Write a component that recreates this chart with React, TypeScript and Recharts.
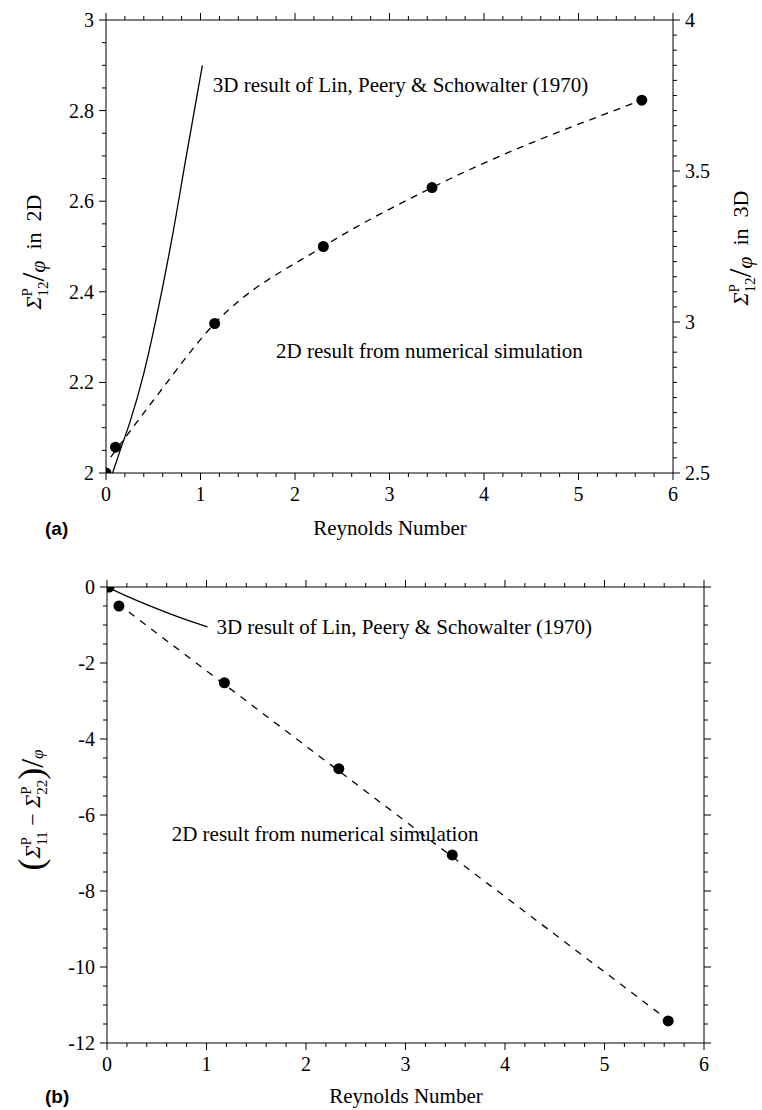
import React from 'react';
import { ComposedChart, Line, Scatter, XAxis, YAxis, ReferenceDot } from 'recharts';

// ---------------- Panel (a) ----------------
// 2D numerical simulation points (Reynolds number, Σ12/φ in 2D)
const simReA = [0, 0.1, 1.15, 2.3, 3.45, 5.67];
const simSigmaA = [2.0, 2.057, 2.33, 2.5, 2.63, 2.823];
// dashed curve through the 2D results
const fitReA = [0.05, 0.5, 1.15, 2.3, 3.45, 5.67];
const fitSigmaA = [2.035, 2.16, 2.33, 2.5, 2.63, 2.823];
// 3D result of Lin, Peery & Schowalter (right axis, Σ12/φ in 3D)
const lpsReA = [0.07, 0.15, 0.25, 0.4, 0.55, 0.7, 0.85, 1.02];
const lpsSigma3D = [2.5, 2.575, 2.665, 2.83, 3.04, 3.28, 3.55, 3.85];

// ---------------- Panel (b) ----------------
const simReB = [0.02, 0.12, 1.18, 2.33, 3.47, 5.64];
const simDiffB = [0, -0.5, -2.52, -4.78, -7.05, -11.42];
const fitReB = [0.22, 5.57];
const fitDiffB = [-0.66, -11.26];
const lpsReB = [0, 0.25, 0.5, 0.75, 1.01];
const lpsDiffB = [0, -0.3, -0.57, -0.82, -1.05];

// ---------------- Ticks ----------------
const xMajor = [0, 1, 2, 3, 4, 5, 6];
const yLeftMajorA = [2, 2.2, 2.4, 2.6, 2.8, 3];
const yRightMajorA = [2.5, 3, 3.5, 4];
const yMajorB = [0, -2, -4, -6, -8, -10, -12];

const steps = (from: number, to: number, step: number) => {
  const n = Math.round((to - from) / step);
  return Array.from({ length: n + 1 }, (_, i) => +(from + i * step).toFixed(4));
};
const xTicks = steps(0, 6, 0.2);
const yLeftTicksA = steps(2, 3, 0.05);
const yRightTicksA = steps(2.5, 4, 0.05);
const yTicksB = steps(-12, 0, 0.5);

const zip = (xs: number[], ys: number[]) => xs.map((x, i) => ({ x, y: ys[i] }));

const SERIF = '"Liberation Serif", "Times New Roman", serif';
const SANS = '"Liberation Sans", Arial, sans-serif';
const TICK_FS = 20;

type Orient = 'left' | 'right' | 'top' | 'bottom';
const makeTick = (orient: Orient, majors: number[], showLabel: boolean) => (props: any) => {
  const { x, y, payload } = props;
  const v = payload.value as number;
  const major = majors.some((m) => Math.abs(m - v) < 1e-6);
  const len = major ? 7 : 4;
  const txt = String(v);
  const ts = { fontFamily: SERIF, fontSize: TICK_FS, fill: '#000' } as any;
  let line: any = null;
  let label: any = null;
  if (orient === 'bottom') {
    line = <line x1={x} y1={y} x2={x} y2={y + len} stroke="#000" />;
    if (major && showLabel) label = <text x={x} y={y + 28} textAnchor="middle" {...ts}>{txt}</text>;
  } else if (orient === 'top') {
    line = <line x1={x} y1={y} x2={x} y2={y - len} stroke="#000" />;
  } else if (orient === 'left') {
    line = <line x1={x} y1={y} x2={x - len} y2={y} stroke="#000" />;
    if (major && showLabel) label = <text x={x - 12} y={y + 7} textAnchor="end" {...ts}>{txt}</text>;
  } else {
    line = <line x1={x} y1={y} x2={x + len} y2={y} stroke="#000" />;
    if (major && showLabel) label = <text x={x + 12} y={y + 7} textAnchor="start" {...ts}>{txt}</text>;
  }
  return (
    <g>
      {line}
      {label}
    </g>
  );
};

const dotShape = (p: any) => <circle cx={p.cx} cy={p.cy} r={5.5} fill="#000" />;

const annot = (text: string) => (p: any) => (
  <text x={p.cx} y={p.cy} dominantBaseline="central" fontFamily={SERIF} fontSize={21} fill="#000">
    {text}
  </text>
);

const axisLine = { stroke: '#000', strokeWidth: 1 };

const SigmaLabel = ({ cx, cy, suffix }: { cx: number; cy: number; suffix: string }) => (
  <text
    transform={`rotate(-90 ${cx} ${cy})`}
    x={cx}
    y={cy + 6}
    textAnchor="middle"
    fontFamily={SERIF}
    fontSize={22}
    fill="#000"
    style={{ whiteSpace: 'pre' }}
  >
    <tspan fontStyle="italic">Σ</tspan>
    <tspan fontSize={15} dy={-9}>P</tspan>
    <tspan fontSize={15} dx={-8.5} dy={16}>12</tspan>
    <tspan fontSize={32} dy={-4}>/</tspan>
    <tspan fontStyle="italic" dy={1}>φ</tspan>
    <tspan dy={-4}>{'  in  ' + suffix}</tspan>
  </text>
);

const DiffLabel = ({ cx, cy }: { cx: number; cy: number }) => (
  <text
    transform={`rotate(-90 ${cx} ${cy})`}
    x={cx}
    y={cy + 6}
    textAnchor="middle"
    fontFamily={SERIF}
    fontSize={22}
    fill="#000"
    style={{ whiteSpace: 'pre' }}
  >
    <tspan fontSize={36} dy={3}>(</tspan>
    <tspan fontStyle="italic" dy={-3}>Σ</tspan>
    <tspan fontSize={15} dy={-9}>P</tspan>
    <tspan fontSize={15} dx={-8.5} dy={16}>11</tspan>
    <tspan dy={-7}>{' − '}</tspan>
    <tspan fontStyle="italic">Σ</tspan>
    <tspan fontSize={15} dy={-9}>P</tspan>
    <tspan fontSize={15} dx={-8.5} dy={16}>22</tspan>
    <tspan fontSize={36} dy={-4}>)</tspan>
    <tspan fontSize={32}>/</tspan>
    <tspan fontStyle="italic" fontSize={17} dy={0}>φ</tspan>
  </text>
);

export default function App() {
  const simA = zip(simReA, simSigmaA);
  const fitA = zip(fitReA, fitSigmaA);
  const lpsA = zip(lpsReA, lpsSigma3D);
  const simB = zip(simReB, simDiffB);
  const fitB = zip(fitReB, fitDiffB);
  const lpsB = zip(lpsReB, lpsDiffB);

  return (
    <div style={{ position: 'absolute', left: 0, top: 0, width: 762, height: 1110, background: '#fff' }}>
      {/* Panel (a): plot box x 106-673, y 20-473 */}
      <div style={{ position: 'absolute', left: 0, top: 0 }}>
        <ComposedChart width={762} height={560} margin={{ top: 10, right: 39, bottom: 57, left: 56 }}>
          <XAxis xAxisId={0} type="number" dataKey="x" domain={[0, 6]} ticks={xTicks} interval={0}
            allowDataOverflow tickSize={0} tickMargin={0} height={30} axisLine={axisLine} tickLine={false}
            tick={makeTick('bottom', xMajor, true)} />
          <XAxis xAxisId="top" orientation="top" type="number" dataKey="x" domain={[0, 6]} ticks={xTicks} interval={0}
            allowDataOverflow tickSize={0} tickMargin={0} height={10} axisLine={axisLine} tickLine={false}
            tick={makeTick('top', xMajor, false)} />
          <YAxis yAxisId={0} type="number" domain={[2, 3]} ticks={yLeftTicksA} interval={0} allowDataOverflow
            tickSize={0} tickMargin={0} width={50} axisLine={axisLine} tickLine={false}
            tick={makeTick('left', yLeftMajorA, true)} />
          <YAxis yAxisId="right" orientation="right" type="number" domain={[2.5, 4]} ticks={yRightTicksA} interval={0}
            allowDataOverflow tickSize={0} tickMargin={0} width={50} axisLine={axisLine} tickLine={false}
            tick={makeTick('right', yRightMajorA, true)} />
          <Line data={fitA} dataKey="y" type="monotone" stroke="#000" strokeWidth={1.3} strokeDasharray="7 6"
            dot={false} activeDot={false} isAnimationActive={false} />
          <Line yAxisId="right" data={lpsA} dataKey="y" type="monotone" stroke="#000" strokeWidth={1.3}
            dot={false} activeDot={false} isAnimationActive={false} />
          <Scatter data={simA} dataKey="y" shape={dotShape} isAnimationActive={false} />
          <ReferenceDot x={1.13} y={2.856} r={0} shape={annot('3D result of Lin, Peery & Schowalter (1970)')} />
          <ReferenceDot x={1.8} y={2.27} r={0} shape={annot('2D result from numerical simulation')} />
        </ComposedChart>
      </div>

      {/* Panel (b): plot box x 107-704, y 587-1043 */}
      <div style={{ position: 'absolute', left: 0, top: 560 }}>
        <ComposedChart width={762} height={550} margin={{ top: 17, right: 48, bottom: 37, left: 57 }}>
          <XAxis xAxisId={0} type="number" dataKey="x" domain={[0, 6]} ticks={xTicks} interval={0}
            allowDataOverflow tickSize={0} tickMargin={0} height={30} axisLine={axisLine} tickLine={false}
            tick={makeTick('bottom', xMajor, true)} />
          <XAxis xAxisId="top" orientation="top" type="number" dataKey="x" domain={[0, 6]} ticks={xTicks} interval={0}
            allowDataOverflow tickSize={0} tickMargin={0} height={10} axisLine={axisLine} tickLine={false}
            tick={makeTick('top', xMajor, false)} />
          <YAxis yAxisId={0} type="number" domain={[-12, 0]} ticks={yTicksB} interval={0} allowDataOverflow
            tickSize={0} tickMargin={0} width={50} axisLine={axisLine} tickLine={false}
            tick={makeTick('left', yMajorB, true)} />
          <YAxis yAxisId="right" orientation="right" type="number" domain={[-12, 0]} ticks={yTicksB} interval={0}
            allowDataOverflow tickSize={0} tickMargin={0} width={10} axisLine={axisLine} tickLine={false}
            tick={makeTick('right', yMajorB, false)} />
          <Line data={fitB} dataKey="y" type="linear" stroke="#000" strokeWidth={1.3} strokeDasharray="7 7"
            dot={false} activeDot={false} isAnimationActive={false} />
          <Line data={lpsB} dataKey="y" type="monotone" stroke="#000" strokeWidth={1.3}
            dot={false} activeDot={false} isAnimationActive={false} />
          <Scatter data={simB} dataKey="y" shape={dotShape} isAnimationActive={false} />
          <ReferenceDot x={1.1} y={-1.06} r={0} shape={annot('3D result of Lin, Peery & Schowalter (1970)')} />
          <ReferenceDot x={0.65} y={-6.5} r={0} shape={annot('2D result from numerical simulation')} />
        </ComposedChart>
      </div>

      {/* Axis titles and panel letters */}
      <svg width={762} height={1110} style={{ position: 'absolute', left: 0, top: 0, pointerEvents: 'none' }}>
        <SigmaLabel cx={35} cy={252} suffix="2D" />
        <SigmaLabel cx={742} cy={248} suffix="3D" />
        <text x={390} y={535} textAnchor="middle" fontFamily={SERIF} fontSize={21} fill="#000">Reynolds Number</text>
        <text x={45} y={535} fontFamily={SANS} fontWeight="bold" fontSize={19} fill="#000">(a)</text>
        <DiffLabel cx={34} cy={810} />
        <text x={406} y={1103} textAnchor="middle" fontFamily={SERIF} fontSize={21} fill="#000">Reynolds Number</text>
        <text x={45} y={1103} fontFamily={SANS} fontWeight="bold" fontSize={19} fill="#000">(b)</text>
      </svg>
    </div>
  );
}
